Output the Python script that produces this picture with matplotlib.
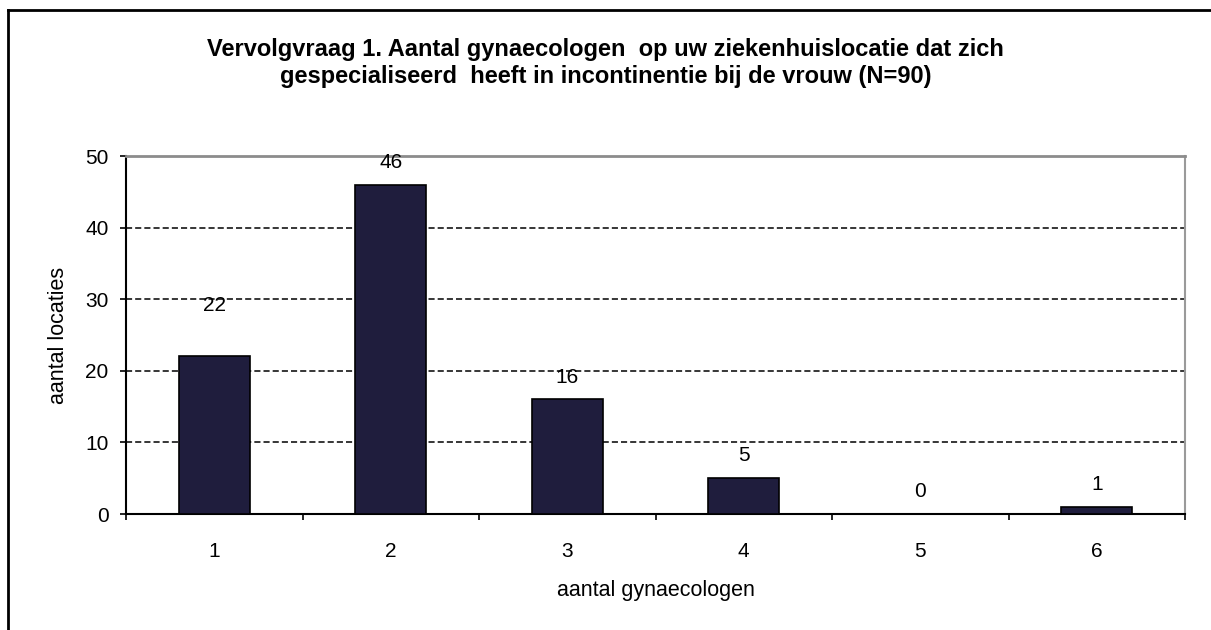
import numpy as np
import matplotlib.pyplot as plt
from matplotlib.lines import Line2D

plt.rcParams['font.family'] = ['Liberation Sans', 'DejaVu Sans']

categories = [1, 2, 3, 4, 5, 6]
values = [22, 46, 16, 5, 0, 1]
label_offsets = [37, 16, 16, 16, 16, 16]  # points above the bar top (label centre)
title = ('Vervolgvraag 1. Aantal gynaecologen  op uw ziekenhuislocatie dat zich\n'
         'gespecialiseerd  heeft in incontinentie bij de vrouw (N=90)')

W, H = 1211, 630
fig = plt.figure(figsize=(W / 100, H / 100), dpi=100)
ax = fig.add_axes([126 / W, 1 - 514 / H, (1185 - 126) / W, (514 - 156) / H])

x = np.array(categories)
ax.bar(x, values, width=0.4, color='#1f1d3d', edgecolor='black', linewidth=1.2, zorder=3)
for xi, v, off in zip(x, values, label_offsets):
    ax.annotate(str(v), (xi, v), xytext=(0, off), textcoords='offset points',
                ha='center', va='center', fontsize=15)

ax.set_xlim(0.5, 6.5)
ax.set_ylim(0, 50)
ax.set_yticks([0, 10, 20, 30, 40, 50])
ax.set_xticks(x)
ax.set_xticks(np.arange(0.5, 7, 1), minor=True)
ax.tick_params(axis='x', which='major', length=0, pad=20, labelsize=15)
ax.tick_params(axis='x', which='minor', length=4.5, width=1.2, direction='out')
ax.tick_params(axis='y', length=4.5, width=1.2, labelsize=15, pad=8)

for yv in [10, 20, 30, 40]:
    ax.axhline(yv, color='black', linestyle=(0, (4, 2)), linewidth=1.1, zorder=1)

ax.spines['top'].set_color('#8c8c8c')
ax.spines['top'].set_linestyle((0, (4, 1)))
ax.spines['top'].set_linewidth(2)
ax.spines['right'].set_color('#9a9a9a')
ax.spines['right'].set_linewidth(1.5)
ax.spines['left'].set_linewidth(1.5)
ax.spines['bottom'].set_linewidth(1.5)

ax.set_xlabel('aantal gynaecologen', fontsize=15.5, labelpad=14)
ax.set_ylabel('aantal locaties', fontsize=15.5, labelpad=12)

fig.text(0.5, 1 - 63 / H, title, ha='center', va='center', fontsize=17,
         fontweight='bold', linespacing=1.25)

# outer frame of the chart object
fig.add_artist(Line2D([8 / W, 8 / W], [0, 1 - 10 / H], color='black', linewidth=2,
                      transform=fig.transFigure))
fig.add_artist(Line2D([8 / W, 1], [1 - 10 / H, 1 - 10 / H], color='black', linewidth=2,
                      transform=fig.transFigure))

fig.savefig('out.png', dpi=100)
